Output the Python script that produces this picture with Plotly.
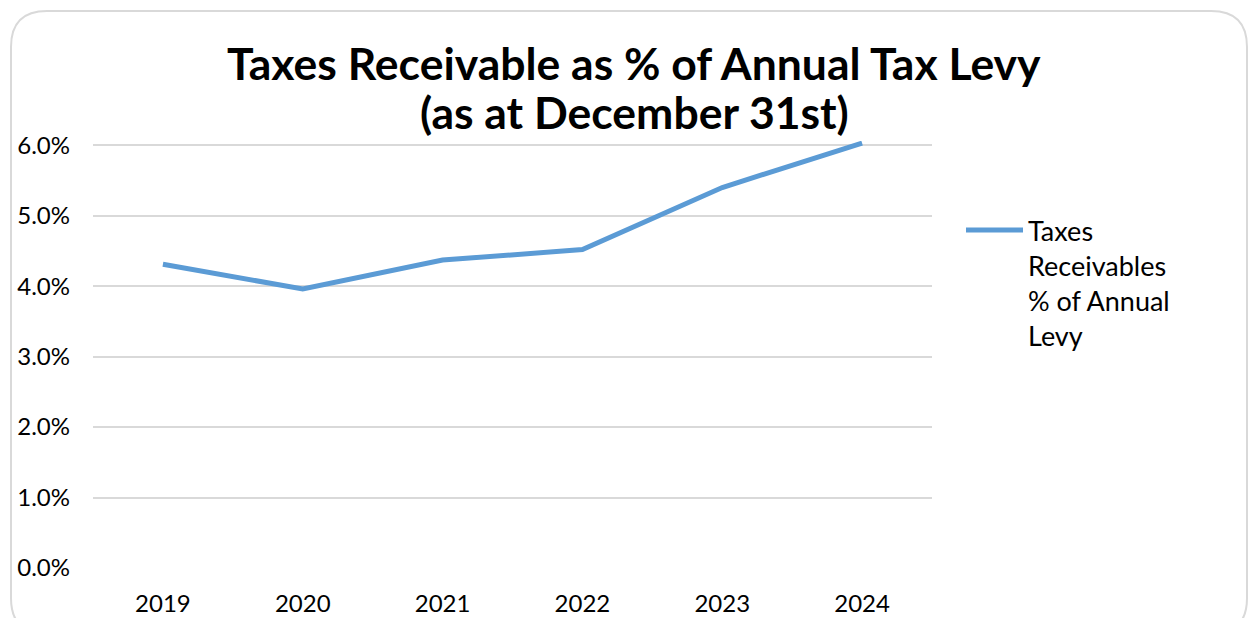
import plotly.graph_objects as go

years = ["2019", "2020", "2021", "2022", "2023", "2024"]
pct_values = [4.31, 3.96, 4.37, 4.52, 5.40, 6.03]
y_ticks = [0, 1, 2, 3, 4, 5, 6]
y_tick_labels = ["0.0%", "1.0%", "2.0%", "3.0%", "4.0%", "5.0%", "6.0%"]
series_name = "Taxes<br>Receivables<br>% of Annual<br>Levy"
title_line1 = "Taxes Receivable as % of Annual Tax Levy"
title_line2 = "(as at December 31st)"

W, H = 1251, 618
L, R, T, B = 93, W - 932, 141, 50
PW, PH = W - L - R, H - T - B

def px_x(x):
    return (x - L) / PW

def px_y(y):
    return (H - B - y) / PH

FONT = "Lato"
fig = go.Figure()
fig.add_trace(go.Scatter(
    x=years, y=pct_values, mode="lines", name=series_name,
    line=dict(color="#5b9bd5", width=5),
))

# rounded border
x0, y0, x1, y1, r = 11, 11, 1247, 634, 36
path = (f"M {px_x(x0 + r)},{px_y(y0)} L {px_x(x1 - r)},{px_y(y0)} "
        f"Q {px_x(x1)},{px_y(y0)} {px_x(x1)},{px_y(y0 + r)} "
        f"L {px_x(x1)},{px_y(y1 - r)} Q {px_x(x1)},{px_y(y1)} {px_x(x1 - r)},{px_y(y1)} "
        f"L {px_x(x0 + r)},{px_y(y1)} Q {px_x(x0)},{px_y(y1)} {px_x(x0)},{px_y(y1 - r)} "
        f"L {px_x(x0)},{px_y(y0 + r)} Q {px_x(x0)},{px_y(y0)} {px_x(x0 + r)},{px_y(y0)} Z")
fig.add_shape(type="path", path=path, xref="paper", yref="paper",
              line=dict(color="#d9d9d9", width=2), fillcolor="rgba(0,0,0,0)", layer="below")

for txt, yc in [(title_line1, 62), (title_line2, 112)]:
    fig.add_annotation(text="<b>" + txt + "</b>", x=px_x(634), y=px_y(yc),
                       xref="paper", yref="paper", xanchor="center", yanchor="middle",
                       showarrow=False, font=dict(family=FONT, size=44.5, color="black"))

fig.update_layout(
    width=W, height=H,
    margin=dict(l=L, r=R, t=T, b=B, autoexpand=False),
    paper_bgcolor="white", plot_bgcolor="white",
    font=dict(family=FONT, color="black"),
    xaxis=dict(range=[-0.5, 5.5], showgrid=False, zeroline=False, showline=False,
               automargin=False,
               ticks="", tickfont=dict(size=24, family=FONT), ticklabelstandoff=19),
    yaxis=dict(range=[0, 6.06], tickvals=y_ticks, ticktext=y_tick_labels,
               showgrid=True, gridcolor="#d9d9d9", gridwidth=1.5, zeroline=False,
               showline=False, automargin=False,
               ticks="", tickfont=dict(size=24, family=FONT),
               ticklabelstandoff=22),
    showlegend=True,
    legend=dict(x=px_x(961), y=px_y(206), xanchor="left", yanchor="top",
                font=dict(size=27, family=FONT), itemwidth=57, valign="top",
                bgcolor="rgba(0,0,0,0)"),
)

fig.write_html("out.html", config={"displayModeBar": False},
               post_script="document.body.style.margin='0';document.body.style.padding='0';")
